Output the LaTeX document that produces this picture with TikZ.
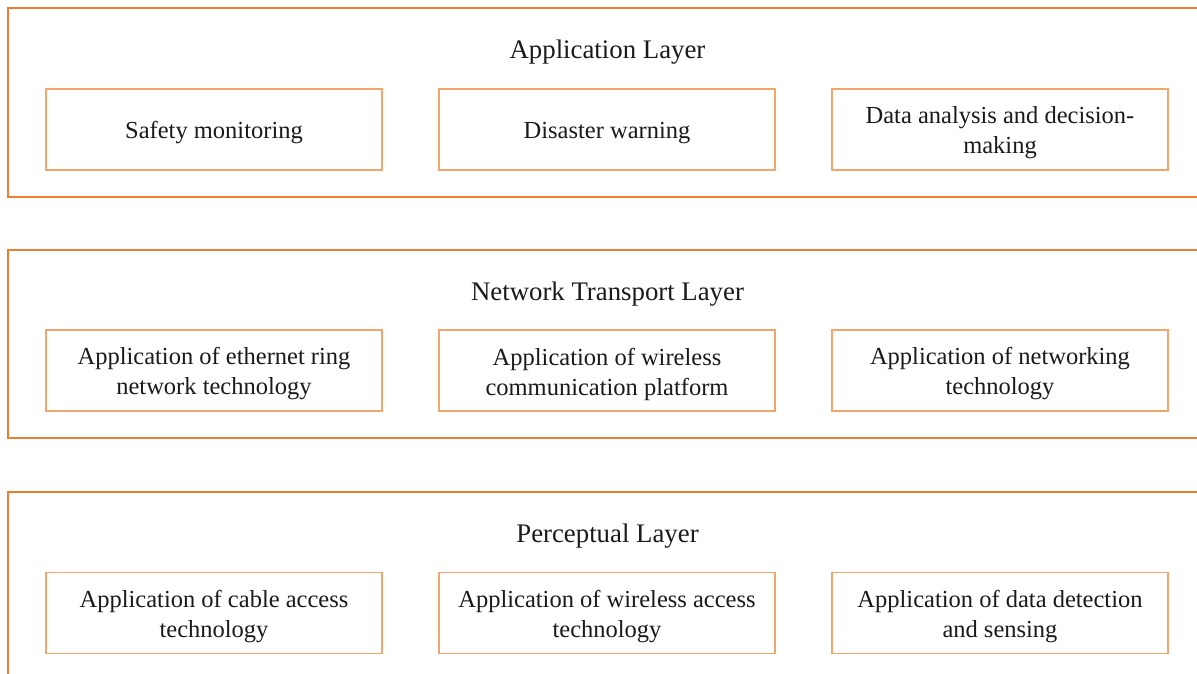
\documentclass[tikz,border=0pt]{standalone}
\usepackage{fontspec}
\setmainfont{Liberation Serif}
\definecolor{outerc}{HTML}{ED7D31}
\definecolor{innerc}{HTML}{F4A56E}
\definecolor{txt}{HTML}{1A1A1A}
\begin{document}
\begin{tikzpicture}[x=1pt,y=-1pt,
  layerbox/.style={draw=outerc,line width=1.2pt},
  itembox/.style={draw=innerc,line width=1.4pt,minimum width=336pt,minimum height=81pt,inner sep=0pt},
  itemtext/.style={align=center,inner sep=0pt,font=\fontsize{24.5}{30}\selectfont,text=txt},
  layertitle/.style={font=\fontsize{26.8}{30}\selectfont,text=txt,inner sep=0pt}]
\useasboundingbox (0,0) rectangle (1197,674);
\clip (0,0) rectangle (1197,674);
\fill[white] (0,0) rectangle (1197,674);
% layers
\draw[layerbox] (8,8) rectangle (1210,197);
\draw[layerbox] (8,250) rectangle (1210,438);
\draw[layerbox] (8,492) rectangle (1210,700);
\node[layertitle] (t1) at (607.5,52.5) {Application Layer};
\node[layertitle] (t2) at (607.5,294.5) {Network Transport Layer};
\node[layertitle] (t3) at (607.5,536.5) {Perceptual Layer};
% application
\node[itembox] (a1) at (214,129.5) {};
\node[itembox] (a2) at (607,129.5) {};
\node[itembox] (a3) at (1000,129.5) {};
\node[itemtext] (a1t) at ([yshift=-3.5pt]a1.center) {Safety monitoring};
\node[itemtext] (a2t) at ([yshift=-3.5pt]a2.center) {Disaster warning};
\node[itemtext] (a3t) at ([yshift=-3.5pt]a3.center) {Data analysis and decision-\\making};
% network
\node[itembox] (n1) at (214,370.5) {};
\node[itembox] (n2) at (607,370.5) {};
\node[itembox] (n3) at (1000,370.5) {};
\node[itemtext] (n1t) at ([yshift=-3.5pt]n1.center) {Application of ethernet ring\\network technology};
\node[itemtext] (n2t) at ([yshift=-3.5pt]n2.center) {Application of wireless\\communication platform};
\node[itemtext] (n3t) at ([yshift=-3.5pt]n3.center) {Application of networking\\technology};
% perceptual
\node[itembox] (p1) at (214,613) {};
\node[itembox] (p2) at (607,613) {};
\node[itembox] (p3) at (1000,613) {};
\node[itemtext] (p1t) at ([yshift=-3.5pt]p1.center) {Application of cable access\\technology};
\node[itemtext] (p2t) at ([yshift=-3.5pt]p2.center) {Application of wireless access\\technology};
\node[itemtext] (p3t) at ([yshift=-3.5pt]p3.center) {Application of data detection\\and sensing};
\end{tikzpicture}
\end{document}
